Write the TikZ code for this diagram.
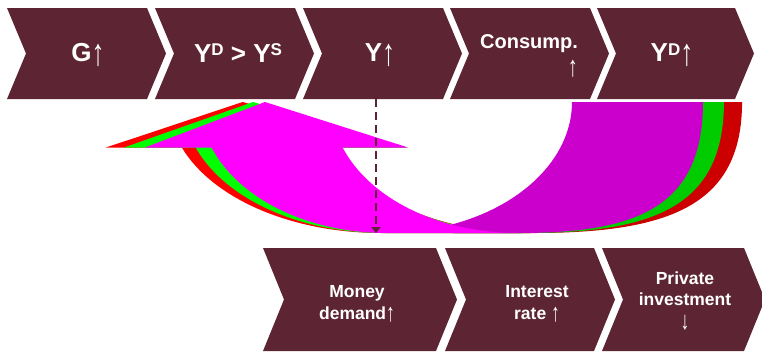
\documentclass[tikz,border=0pt]{standalone}
\usepackage{fontspec}
\setmainfont{Liberation Sans}
\newfontfamily\arrfont{Liberation Sans}
\usetikzlibrary{arrows.meta}
\definecolor{maroon}{RGB}{93,37,51}
\definecolor{mgB}{RGB}{255,0,255}
\definecolor{mgD}{RGB}{204,0,204}
\definecolor{rdB}{RGB}{255,0,0}
\definecolor{rdD}{RGB}{204,0,0}
\definecolor{grB}{RGB}{0,255,0}
\definecolor{grD}{RGB}{0,204,0}
\newcommand{\uarr}{{\arrfont\mdseries\raisebox{-0.14em}{\scalebox{1}[1.45]{↑}}}}
\newcommand{\darr}{{\arrfont\mdseries\raisebox{-0.14em}{\scalebox{1}[1.45]{↓}}}}
\newcommand{\sps}[1]{\raisebox{6.5pt}{\fontsize{17}{17}\selectfont #1}}
% left, top, width, height, depth
\newcommand{\chevbox}[5]{%
  \fill[maroon] (#1,#2) -- ++(#3,0) -- ++(#5,#4/2) -- ++(-#5,#4/2) -- ++(-#3,0) -- ++(#5,-#4/2) -- cycle;}
\newcommand{\uturnshape}[2]{%
  \fill[#2] (572,102) -- (703,102) .. controls (703,205) and (640,233) .. (520,233) -- (451.5,233) -- (451.5,224.6)
     -- plot[domain=69.4:0, samples=40, variable=\t] ({386+186*cos(\t)},{102+131*sin(\t)}) -- cycle;
  \fill[#1] plot[domain=159.9:90, samples=40, variable=\t] ({386+186*cos(\t)},{102+131*sin(\t)})
     -- (517,233) -- plot[domain=90:159.9, samples=40, variable=\t] ({517+186*cos(\t)},{102+131*sin(\t)}) -- cycle;
  \fill[#1] (145,147.5) -- (265,102) -- (408,147.5) -- cycle;}
\tikzset{
  toplbl/.style={text=white, font=\bfseries\fontsize{26}{28}\selectfont, inner sep=0pt},
  midlbl/.style={text=white, font=\bfseries\fontsize{20}{26}\selectfont, inner sep=0pt, align=right},
  botlbl/.style={text=white, font=\bfseries\fontsize{17.5}{21.5}\selectfont, inner sep=0pt, align=center},
  dasharrow/.style={draw=maroon, line width=2pt, dash pattern=on 8pt off 5pt, -{Triangle[length=6pt,width=9pt]}}
}
\begin{document}
\begin{tikzpicture}[x=1pt,y=-1pt]
\useasboundingbox (0,0) rectangle (762,351);
% top row
\chevbox{7}{8}{140}{91}{19}
\chevbox{155}{8}{140}{91}{19}
\chevbox{303}{8}{140}{91}{19}
\chevbox{450}{8}{140}{91}{19}
\chevbox{597}{8}{138}{91}{19}
% bottom row
\chevbox{263}{248}{173}{103}{21}
\chevbox{445}{248}{149}{103}{21}
\chevbox{602}{248}{142}{103}{21}
% curved arrow copies
\begin{scope}[shift={(424,0)}, xscale=1.14, shift={(-424,0)}]
  \uturnshape{rdB}{rdD}
\end{scope}
\begin{scope}[shift={(424,0)}, xscale=1.075, shift={(-424,0)}]
  \uturnshape{grB}{grD}
\end{scope}
\uturnshape{mgB}{mgD}
% labels
\node[toplbl] (g) at (88,55) {G\uarr};
\node[toplbl] (yds) at (238,53) {Y\sps{D} > Y\sps{S}};
\node[toplbl] (y) at (380,55) {Y\uarr};
\node[midlbl] (cons) at (529,56) {Consump.\\\uarr};
\node[toplbl] (yd) at (672,55) {Y\sps{D}\uarr};
\node[botlbl] (md) at (357,304) {Money\\demand\uarr};
\node[botlbl] (ir) at (537,304) {Interest\\rate \uarr};
\node[botlbl] (pi) at (685,301) {Private\\investment\\\darr};
% dashed connector
\coordinate (ytail) at (376,99);
\coordinate (yhead) at (376,233);
\draw[dasharrow] (ytail) -- (yhead);
\end{tikzpicture}
\end{document}
